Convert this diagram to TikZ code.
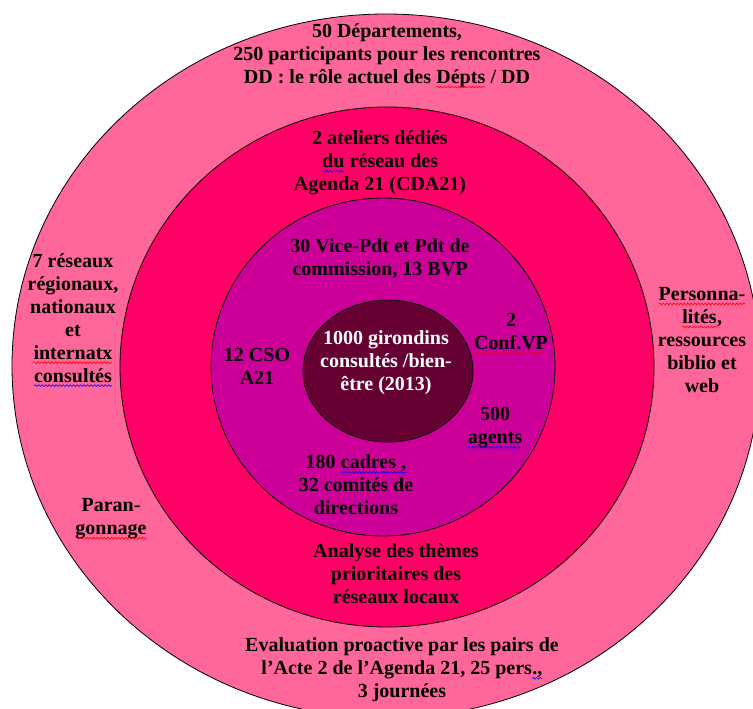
\documentclass[tikz,border=0pt]{standalone}
\usepackage{fontspec}
\setmainfont{Liberation Serif}
\usetikzlibrary{decorations.pathmorphing}
\newcommand\wv[2]{\tikz[baseline=(w.base),x=1cm,y=1cm]{\node[inner sep=0pt,outer sep=0pt] (w) {#2};\draw[#1, line width=0.6pt, decorate, decoration={snake, amplitude=0.9pt, segment length=3.5pt}] ([yshift=-3.5pt]w.base west) -- ([yshift=-3.5pt]w.base east);}}
\definecolor{ringA}{HTML}{FF6699}
\definecolor{ringB}{HTML}{FF0066}
\definecolor{ringC}{HTML}{CC0099}
\definecolor{ringD}{HTML}{660033}
\tikzset{
  ring/.style={draw=black, line width=0.8pt},
  lbl/.style={font=\fontsize{20}{23}\selectfont\bfseries, align=center, inner sep=0pt, text=black},
  wlbl/.style={lbl, text=white}
}
\begin{document}
\begin{tikzpicture}[x=1pt,y=-1pt]
\clip (0,0) rectangle (753,709);
\fill[white] (0,0) rectangle (753,709);
\draw[ring, fill=ringA] (386,366) ellipse [x radius=374pt, y radius=352pt];
\draw[ring, fill=ringB] (387,367) ellipse [x radius=267pt, y radius=260pt];
\draw[ring, fill=ringC] (383,367) ellipse [x radius=172pt, y radius=169pt];
\draw[ring, fill=ringD] (388,371) ellipse [x radius=85pt, y radius=71pt];

% outer ring
\node[lbl] (top) at (387,56) {50 Départements,\\250 participants pour les rencontres\\DD : le rôle actuel des \wv{red}{Dépts} / DD};
\node[lbl] (left) at (73,320) {7 réseaux\\régionaux,\\nationaux\\et\\\wv{red}{internatx}\\\wv{blue}{consultés}};
\node[lbl] (right) at (702,340) {\wv{red}{Personna-}\\\wv{red}{lités},\\ressources\\biblio et\\web};
\node[lbl] (paran) at (111,519) {Paran-\\\wv{red}{gonnage}};
\node[lbl] (bottom) at (402,670) {Evaluation proactive par les pairs de\\l’Acte 2 de l’Agenda 21, 25 pers\wv{blue}{.,}\\3 journées};

% second ring
\node[lbl] (ateliers) at (380,163) {2 ateliers dédiés\\\wv{blue}{du} réseau des\\Agenda 21 (CDA21)};
\node[lbl] (analyse) at (396,574) {Analyse des thèmes\\prioritaires des\\réseaux locaux};

% third ring
\node[lbl] (vice) at (380,259) {30 Vice-Pdt et Pdt de\\commission, 13 BVP};
\node[lbl] (cso) at (257,366) {12 CSO\\A21};
\node[lbl] (conf) at (511,334) {2\\\wv{red}{Conf.VP}};
\node[lbl] (agents) at (495,428) {500\\\wv{blue}{agents}};
\node[lbl] (cadres) at (356,485) {180 \wv{blue}{cadres ,}\\32 comités de\\directions};

% inner
\node[wlbl] (center) at (386,363) {1000 girondins\\consultés /bien-\\être (2013)};
\end{tikzpicture}
\end{document}
